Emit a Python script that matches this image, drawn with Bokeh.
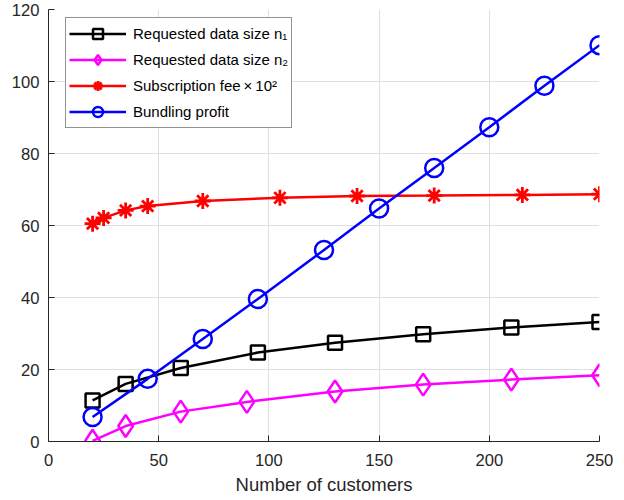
from bokeh.plotting import figure
from bokeh.models import Range1d, Legend, LegendItem, FixedTicker
from bokeh.embed import file_html
from bokeh.resources import INLINE

# Data
x_n1 = [20, 35, 60, 95, 130, 170, 210, 250]
y_n1 = [11.4, 16.0, 20.4, 24.7, 27.4, 29.8, 31.7, 33.2]

x_n2 = [20, 35, 60, 90, 130, 170, 210, 250]
y_n2 = [0.2, 4.3, 8.3, 11.0, 13.9, 15.8, 17.2, 18.4]

x_fee = [20, 25, 35, 45, 70, 105, 140, 175, 215, 250]
y_fee = [60.5, 62.1, 64.2, 65.4, 66.8, 67.7, 68.2, 68.3, 68.5, 68.7]

x_profit = [20, 45, 70, 95, 125, 150, 175, 200, 225, 250]
y_profit = [6.8, 17.4, 28.5, 39.6, 53.2, 64.7, 76.0, 87.3, 98.8, 110.1]

x_ticks = [0, 50, 100, 150, 200, 250]
y_ticks = [0, 20, 40, 60, 80, 100, 120]

labels = ["Requested data size n\u2081", "Requested data size n\u2082",
          "Subscription fee\u2009\u00d7\u200910\u00b2", "Bundling profit"]

FONT = "Liberation Sans"
TXT = "#262626"

p = figure(width=624, height=500, output_backend="svg", toolbar_location=None,
           x_range=Range1d(0, 250), y_range=Range1d(0, 120),
           min_border_left=48, min_border_right=25, min_border_top=9, min_border_bottom=59)
p.outline_line_color = None

p.xaxis.ticker = FixedTicker(ticks=x_ticks)
p.yaxis.ticker = FixedTicker(ticks=y_ticks)
for ax in (p.xaxis[0], p.yaxis[0]):
    ax.axis_line_color = TXT
    ax.axis_line_width = 1
    ax.major_tick_line_color = TXT
    ax.major_tick_in = 6
    ax.major_tick_out = 0
    ax.minor_tick_line_color = None
    ax.major_label_text_font = FONT
    ax.major_label_text_font_size = "16.6px"
    ax.major_label_text_color = TXT
    ax.axis_label_text_font = FONT
    ax.axis_label_text_font_style = "normal"
    ax.axis_label_text_font_size = "18.5px"
    ax.axis_label_text_color = TXT
p.xaxis.major_label_standoff = 12
p.yaxis.major_label_standoff = 9
p.xaxis.axis_label = "Number of customers"
p.xaxis.axis_label_standoff = 5

p.xgrid.ticker = FixedTicker(ticks=x_ticks)
p.ygrid.ticker = FixedTicker(ticks=y_ticks)
p.grid.grid_line_color = "#dfdfdf"
p.grid.grid_line_width = 1

lw = 2.5
l1 = p.line(x_n1, y_n1, line_color="black", line_width=lw)
m1 = p.scatter(x_n1, y_n1, marker="square", size=14, fill_color=None,
               line_color="black", line_width=2.5)

l2 = p.line(x_n2, y_n2, line_color="#ff00ff", line_width=lw)
m2 = p.scatter(x_n2, y_n2, marker="diamond", size=22, fill_color=None,
               line_color="#ff00ff", line_width=2.5)

l3 = p.line(x_fee, y_fee, line_color="#ff0000", line_width=lw)
m3 = p.scatter(x_fee, y_fee, marker="asterisk", size=16,
               line_color="#ff0000", line_width=2.8)

l4 = p.line(x_profit, y_profit, line_color="#0000ff", line_width=lw)
m4 = p.scatter(x_profit, y_profit, marker="circle", size=18, fill_color=None,
               line_color="#0000ff", line_width=2.5)

legend = Legend(items=[
    LegendItem(label=labels[0], renderers=[l1, m1]),
    LegendItem(label=labels[1], renderers=[l2, m2]),
    LegendItem(label=labels[2], renderers=[l3, m3]),
    LegendItem(label=labels[3], renderers=[l4, m4]),
], location=(17, 313))
legend.label_text_font = FONT
legend.label_text_font_size = "15px"
legend.label_text_color = "black"
legend.border_line_color = TXT
legend.border_line_width = 1
legend.background_fill_color = "white"
legend.background_fill_alpha = 1
legend.glyph_width = 57
legend.glyph_height = 25
legend.label_height = 25
legend.spacing = 1
legend.padding = 3
legend.label_standoff = 7
legend.margin = 0
p.add_layout(legend, "center")

open("out.html", "w").write(file_html(p, INLINE))
